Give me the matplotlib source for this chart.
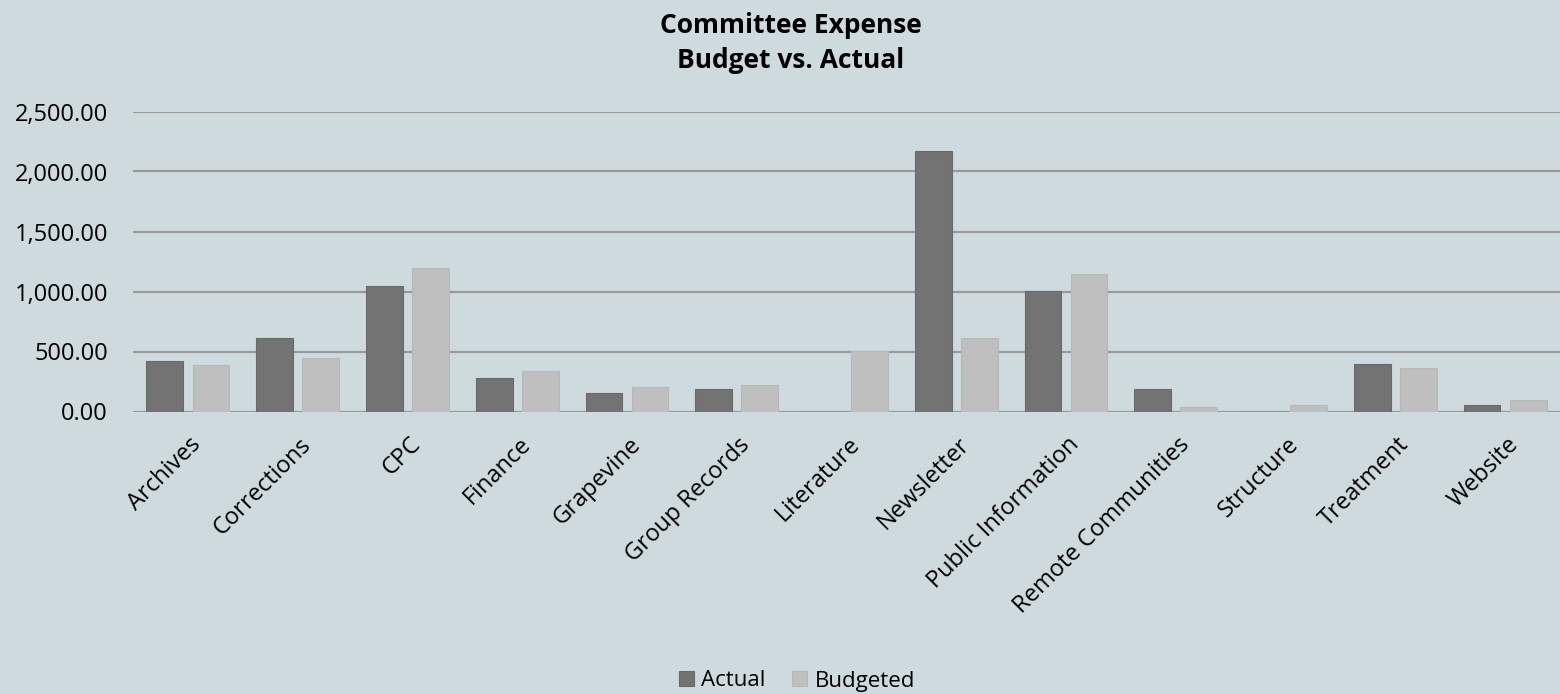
import numpy as np
import matplotlib.pyplot as plt
from matplotlib.ticker import FuncFormatter
from matplotlib.transforms import ScaledTranslation

# data
categories = ["Archives", "Corrections", "CPC", "Finance", "Grapevine",
              "Group Records", "Literature", "Newsletter", "Public Information",
              "Remote Communities", "Structure", "Treatment", "Website"]
actual = [423, 612, 1046, 277, 157, 187, 0, 2171, 1007, 185, 0, 393, 54]
budgeted = [390, 446, 1196, 337, 201, 221, 504, 615, 1146, 35, 54, 362, 93]


def main():
    plt.rcParams["font.family"] = ["Open Sans", "DejaVu Sans"]
    bg = "#cfdadf"

    fig = plt.figure(figsize=(15.6, 6.94), dpi=100, facecolor=bg)
    ax = fig.add_axes([133 / 1560, 1 - 411.5 / 694, 1 - 133 / 1560, 300 / 694])
    ax.set_facecolor(bg)

    x = np.arange(len(categories))
    w = 0.335
    ax.bar(x - 0.21, actual, w, color="#737373", edgecolor="#6a6a6a",
           linewidth=0.8, label="Actual", zorder=3)
    ax.bar(x + 0.21, budgeted, w, color="#bfbfbf", edgecolor="#b8b8b8",
           linewidth=0.8, label="Budgeted", zorder=3)

    ax.set_xlim(-0.5, len(categories) - 0.5)
    ax.set_ylim(0, 2500)
    ax.set_yticks(np.arange(0, 2501, 500))
    ax.yaxis.set_major_formatter(FuncFormatter(lambda v, p: f"{v:,.2f}"))
    ax.grid(axis="y", color="#999999", linewidth=1.6, zorder=0)
    ax.set_axisbelow(True)
    for s in ax.spines.values():
        s.set_visible(False)

    ax.tick_params(axis="y", length=0, pad=18, labelsize=17)
    ax.tick_params(axis="x", length=0, pad=12, labelsize=17)
    ax.set_xticks(x)
    ax.set_xticklabels(categories, rotation=45, ha="right", va="center",
                       rotation_mode="anchor")
    # nudge the slanted labels right/down like the original
    shift = ScaledTranslation(10 / 100, -13 / 100, fig.dpi_scale_trans)
    for lab in ax.get_xticklabels():
        lab.set_transform(lab.get_transform() + shift)

    fig.text(791 / 1560, 1 - 43 / 694, "Committee Expense\nBudget vs. Actual",
             ha="center", va="center", fontsize=19, fontweight="bold",
             linespacing=1.4)

    fig.legend(loc="center", bbox_to_anchor=(797 / 1560, 1 - 681 / 694),
               ncol=2, frameon=False, fontsize=16, handlelength=0.65,
               handleheight=0.65, handletextpad=0.35, columnspacing=1.2,
               borderaxespad=0)

    fig.savefig("out.png", dpi=100, facecolor=bg)
    plt.close(fig)


if __name__ == "__main__":
    main()
